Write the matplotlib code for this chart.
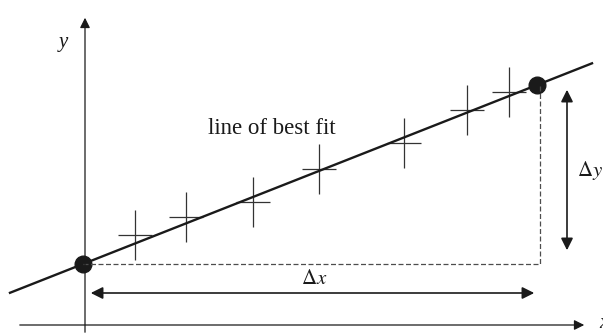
import matplotlib
matplotlib.use("Agg")
import matplotlib.pyplot as plt

plt.rcParams['font.family'] = ['Liberation Serif', 'DejaVu Serif']
plt.rcParams['mathtext.fontset'] = 'stix'

# measured points (origin where the axes cross)
x_pts = [50, 101, 168, 234, 319, 382, 424]
y_pts = [90, 108, 123, 156, 182, 215, 233]
x_err = 17
y_err = 25

# two chosen points on the line of best fit
fit_x = [-2, 452]
fit_y = [61, 240]
line_x_range = [-75, 507]

fig = plt.figure(figsize=(6.03, 3.33), dpi=100)
ax = fig.add_axes([0, 0, 1, 1])
ax.set_xlim(-85, 518)
ax.set_ylim(-8, 325)
ax.axis('off')

ink = '#1a1a1a'

# axes with arrow heads
ax.annotate('', xy=(502, 0), xytext=(-68, 0),
            arrowprops=dict(arrowstyle='-|>', color=ink, lw=0.9, mutation_scale=15))
ax.annotate('', xy=(0, 310), xytext=(0, -10),
            arrowprops=dict(arrowstyle='-|>', color=ink, lw=0.9, mutation_scale=15))
ax.text(-22, 282, 'y', fontsize=15, style='italic', ha='center', va='center', color=ink)
ax.text(514, 2, 'x', fontsize=15, style='italic', ha='left', va='center', color=ink)

# error crosses
ax.errorbar(x_pts, y_pts, xerr=x_err, yerr=y_err, fmt='none',
            ecolor='#333333', elinewidth=0.9, capsize=0)

# line of best fit
slope = (fit_y[1] - fit_y[0]) / (fit_x[1] - fit_x[0])
ly = [fit_y[0] + slope * (v - fit_x[0]) for v in line_x_range]
ax.plot(line_x_range, ly, color=ink, lw=1.7)
ax.plot(fit_x, fit_y, 'o', color=ink, markersize=12)
ax.text(187, 197, 'line of best fit', fontsize=16.5, ha='center', va='center', color=ink)

# dashed construction lines
ax.plot([fit_x[0], 455, 455], [fit_y[0], fit_y[0], fit_y[1]],
        ls=(0, (4, 2)), color='#4d4d4d', lw=0.9)

# delta arrows
ax.annotate('', xy=(3, 32), xytext=(452, 32),
            arrowprops=dict(arrowstyle='<|-|>', color=ink, lw=1.2, mutation_scale=18))
ax.text(229, 45, r'$\Delta x$', fontsize=15, ha='center', va='center', color=ink)
ax.annotate('', xy=(482, 238), xytext=(482, 72),
            arrowprops=dict(arrowstyle='<|-|>', color=ink, lw=1.2, mutation_scale=18))
ax.text(505, 155, r'$\Delta y$', fontsize=15, ha='center', va='center', color=ink)

fig.savefig('out.png', dpi=100)
